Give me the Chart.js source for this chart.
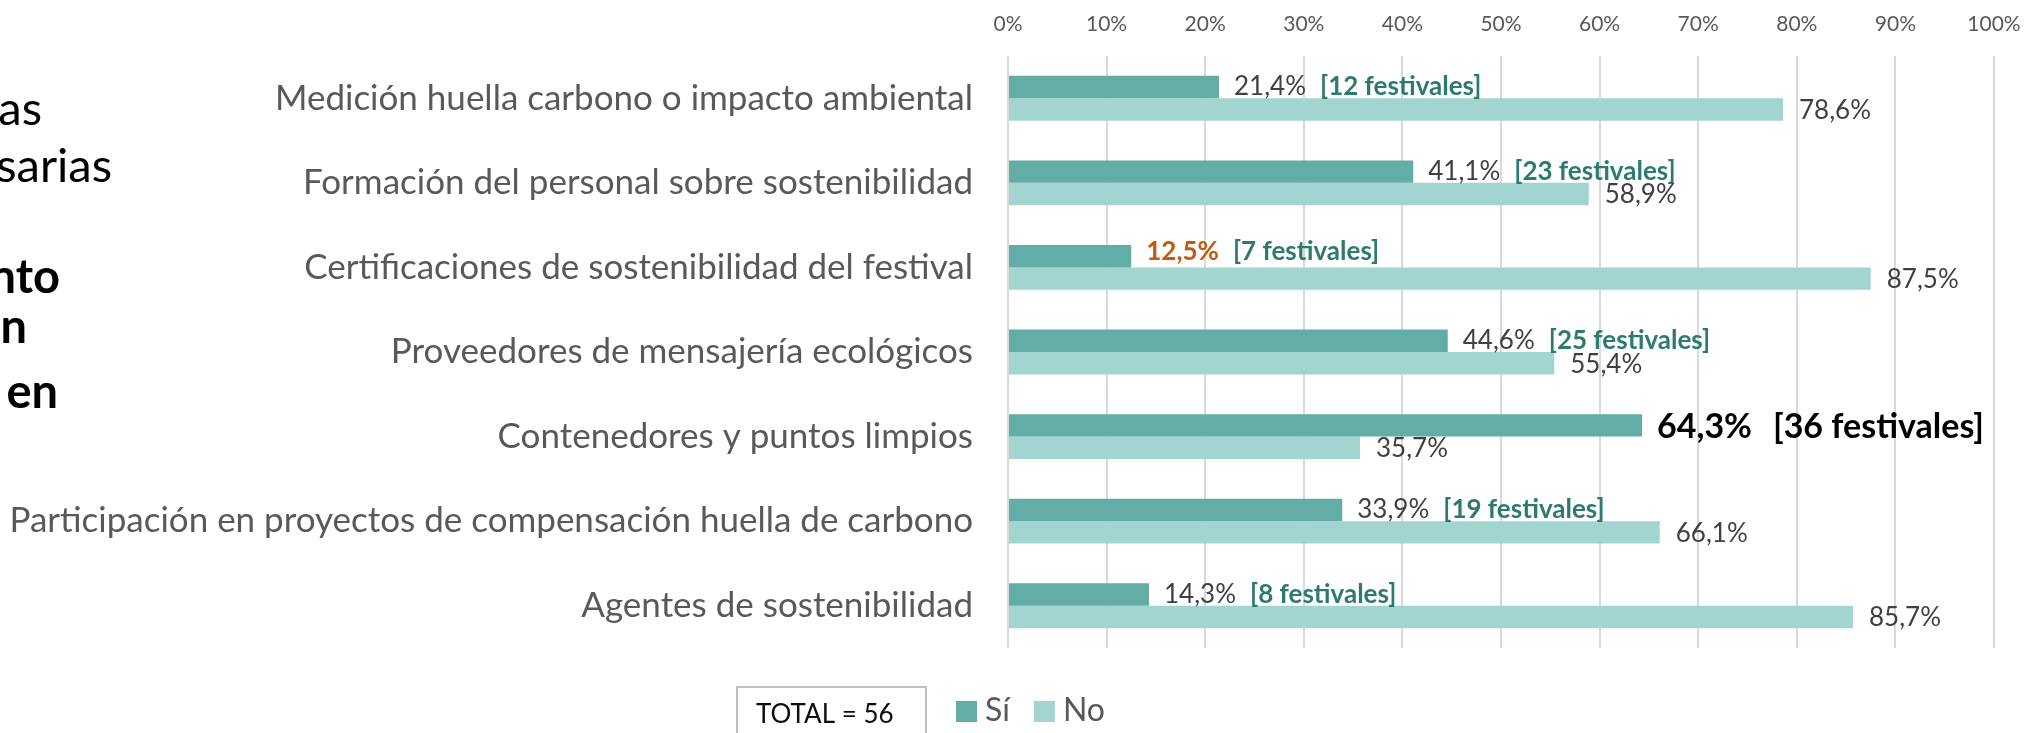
<!DOCTYPE html>
<html>
<head>
<meta charset="utf-8">
<title>Sostenibilidad festivales</title>
<script src="https://cdn.jsdelivr.net/npm/chart.js@4/dist/chart.umd.min.js"></script>
<style>
    html, body {margin: 0; padding: 0; background: #ffffff;}
    #wrap {width: 2040px; height: 733px;}
</style>
</head>
<body>
<div id="wrap"><canvas id="festChart" width="2040" height="733"></canvas></div>
<script>
const categories = [
    "Medición huella carbono o impacto ambiental",
    "Formación del personal sobre sostenibilidad",
    "Certificaciones de sostenibilidad del festival",
    "Proveedores de mensajería ecológicos",
    "Contenedores y puntos limpios",
    "Participación en proyectos de compensación huella de carbono",
    "Agentes de sostenibilidad"
]
const seriesNames = ["Sí", "No"]
const siValues = [21.4, 41.1, 12.5, 44.6, 64.3, 33.9, 14.3]
const noValues = [78.6, 58.9, 87.5, 55.4, 35.7, 66.1, 85.7]
const festivales = [12, 23, 7, 25, 36, 19, 8]
const totalFestivales = 56
const tickValues = [0, 10, 20, 30, 40, 50, 60, 70, 80, 90, 100]
// cut off text from the slide box on the left
const sideTextNormal = ["as", "sarias"]
const sideTextBold = ["nto", "n", "en"]

const FONT = "Lato"
const colSi = "#62aea7"
const colNo = "#a2d5cf"

function pct(v) {
    return v.toFixed(1).replace(".", ",") + "%"
}

function fontStr(size, bold) {
    return (bold ? "bold " : "") + size + "px " + FONT
}

function drawMid(ctx, txt, x, y, size, bold, color) {
    // y is the centre of the capitals
    ctx.font = fontStr(size, bold)
    ctx.fillStyle = color
    ctx.textAlign = "left"
    ctx.textBaseline = "alphabetic"
    ctx.fillText(txt, x, y + size * 0.36)
    return ctx.measureText(txt).width
}

const barLabels = {
    id: "barLabels",
    afterDatasetsDraw(chart) {
        const ctx = chart.ctx
        const si = chart.data.datasets[0].data
        const maxI = si.indexOf(Math.max(...si))
        const minI = si.indexOf(Math.min(...si))
        ctx.save()
        chart.getDatasetMeta(0).data.forEach(function (bar, i) {
            let x = bar.x + 15
            if (i === maxI) {
                let w = drawMid(ctx, pct(si[i]), x, bar.y, 34, true, "#000000")
                drawMid(ctx, "[" + festivales[i] + " festivales]", x + w + 21, bar.y, 34, true, "#000000")
                return
            }
            let w
            if (i === minI) {
                w = drawMid(ctx, pct(si[i]), x, bar.y - 6, 26, true, "#c55a11")
            } else {
                w = drawMid(ctx, pct(si[i]), x, bar.y - 1, 26, false, "#404040")
            }
            drawMid(ctx, "[" + festivales[i] + " festivales]", x + w + 14, bar.y - (i === minI ? 6 : 1), 26, true, "#2e7a70")
        })
        const no = chart.data.datasets[1].data
        chart.getDatasetMeta(1).data.forEach(function (bar, i) {
            drawMid(ctx, pct(no[i]), bar.x + 16, bar.y, 26, false, "#404040")
        })
        ctx.restore()
    }
}

const extras = {
    id: "extras",
    afterDraw(chart) {
        const ctx = chart.ctx
        ctx.save()
        // left side fragments
        ctx.fillStyle = "#000000"
        ctx.textAlign = "right"
        ctx.textBaseline = "alphabetic"
        ctx.font = fontStr(47, false)
        ctx.fillText(sideTextNormal[0], 42, 125)
        ctx.fillText(sideTextNormal[1], 112, 182)
        ctx.font = fontStr(47, true)
        ctx.fillText(sideTextBold[0], 60, 293)
        ctx.fillText(sideTextBold[1], 27, 343)
        ctx.fillText(sideTextBold[2], 58, 408)

        // total box
        ctx.strokeStyle = "#bfbfbf"
        ctx.lineWidth = 2
        ctx.strokeRect(737, 687, 189, 60)
        ctx.fillStyle = "#0d0d0d"
        ctx.textAlign = "left"
        ctx.font = fontStr(26, false)
        ctx.fillText("TOTAL = " + totalFestivales, 756, 723)

        // legend
        const ds = chart.data.datasets
        let lx = 956
        ds.forEach(function (d) {
            ctx.fillStyle = d.backgroundColor
            ctx.fillRect(lx, 701, 21, 21)
            ctx.fillStyle = "#595959"
            ctx.font = fontStr(32, false)
            ctx.fillText(d.label, lx + 29, 721)
            lx += 29 + ctx.measureText(d.label).width + 24
        })
        ctx.restore()
    }
}

new Chart(document.getElementById("festChart").getContext("2d"), {
    type: "bar",
    data: {
        labels: categories,
        datasets: [
            {label: seriesNames[0], data: siValues, backgroundColor: colSi},
            {label: seriesNames[1], data: noValues, backgroundColor: colNo}
        ]
    },
    options: {
        indexAxis: "y",
        responsive: false,
        animation: false,
        devicePixelRatio: 1,
        layout: {padding: {left: 0, right: 46, top: 0, bottom: 85}},
        datasets: {bar: {categoryPercentage: 0.53, barPercentage: 1.0}},
        plugins: {legend: {display: false}, tooltip: {enabled: false}},
        scales: {
            x: {
                position: "top",
                min: 0,
                max: 100,
                afterBuildTicks: function (scale) {
                    scale.ticks = tickValues.map(v => ({value: v}))
                },
                afterFit: function (scale) {
                    scale.height = 52
                },
                border: {display: false},
                grid: {color: "#d9d9d9", lineWidth: 2, drawTicks: false},
                ticks: {
                    padding: 19,
                    color: "#595959",
                    font: {family: FONT, size: 21},
                    callback: v => v + "%"
                }
            },
            y: {
                afterFit: function (scale) {
                    scale.width = 1008
                },
                border: {display: false},
                grid: {display: false, drawTicks: false},
                ticks: {
                    padding: 35,
                    color: "#595959",
                    font: {family: FONT, size: 35}
                }
            }
        }
    },
    plugins: [barLabels, extras]
})
</script>
</body>
</html>
